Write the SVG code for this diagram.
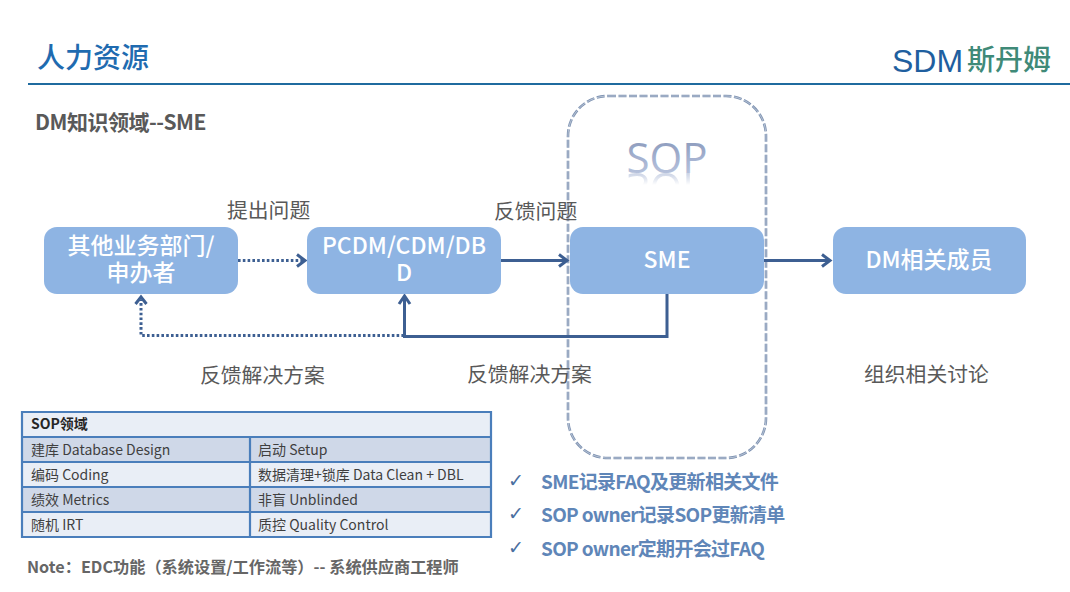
<svg xmlns="http://www.w3.org/2000/svg" width="1070" height="592" viewBox="0 0 1070 592">
<style>
text{font-family:"Noto Sans CJK SC","Noto Sans",sans-serif}
.box{fill:#8eb4e3}
.bt{fill:#fff;font-size:23px;font-weight:500;text-anchor:middle}
.lab{fill:#595959;font-size:20.800px}
.sol{fill:none;stroke:#3d5f92;stroke-width:3}
.dot{fill:none;stroke:#3d5f92;stroke-width:3;stroke-dasharray:2.6 2.2}
.ah{fill:none;stroke:#3d5f92;stroke-width:3}
.hd{fill:#e9eef6}.r1{fill:#cfd8e8}.r2{fill:#e9eef6}
.grid{fill:none;stroke:#4a7ebb;stroke-width:2.2}
.tt{fill:#3f3f3f;font-size:14px}
.bl{fill:#5f86b8;font-size:19px;font-weight:700;letter-spacing:-0.7px}
.ck{fill:#4a6f9f;font-size:19px;font-family:"DejaVu Sans",sans-serif}
</style>
<defs>
<linearGradient id="sg" x1="0" y1="0" x2="0" y2="1"><stop offset="0" stop-color="#7d8db0"/><stop offset="0.6" stop-color="#a9b6d4"/><stop offset="1" stop-color="#c4cde2"/></linearGradient>
<linearGradient id="fade" gradientUnits="userSpaceOnUse" x1="0" y1="173" x2="0" y2="185"><stop offset="0" stop-color="#fff" stop-opacity="0.7"/><stop offset="1" stop-color="#fff" stop-opacity="0"/></linearGradient>
<mask id="rm" maskUnits="userSpaceOnUse" x="610" y="172" width="110" height="16"><rect x="610" y="172" width="110" height="16" fill="url(#fade)"/></mask>
</defs>
<rect width="1070" height="592" fill="#fff"/>
<g id="header">
<text x="37" y="68" font-size="28" fill="#1f6bb0" style="font-weight:500">人力资源</text>
<line x1="28" y1="84" x2="1070" y2="84" stroke="#1f6b9f" stroke-width="2"/>
<text x="892" y="72" font-size="32" fill="#1f5f9f" style='font-family:"Liberation Sans",sans-serif'>SDM</text>
<text x="967" y="70" font-size="28" fill="#3f8a78" style="font-weight:500">斯丹姆</text>
<text x="35" y="130" font-size="21" fill="#595959" style="font-weight:700;letter-spacing:-0.5px">DM知识领域--SME</text>
</g>
<g id="sop-frame">
<rect x="568" y="96" width="198" height="362" rx="40" fill="none" stroke="#7f93b2" stroke-width="2.600" stroke-dasharray="8 2.500"/>
<rect x="568" y="96" width="198" height="362" rx="40" fill="none" stroke="#eef2f7" stroke-width="0.500" stroke-dasharray="8 2.500"/>
<text id="sop-word" x="667" y="173" font-size="42" text-anchor="middle" fill="url(#sg)" style="font-family:'Open Sans',sans-serif">SOP</text>
<g mask="url(#rm)"><use href="#sop-word" transform="translate(0,346) scale(1,-1)"/></g>
</g>
<g id="connectors">
<path class="dot" d="M238 260.500H303"/>
<path class="ah" d="M297 254.500l8 6-8 6"/>
<path class="sol" d="M501 260.500H566"/>
<path class="ah" d="M559 254.500l8 6-8 6"/>
<path class="sol" d="M764 260.500H829"/>
<path class="ah" d="M822 254.500l8 6-8 6"/>
<path class="sol" d="M667 294V336.500H404.500V298"/>
<path class="ah" d="M399 304l5.500-8 5.500 8"/>
<path class="dot" d="M404 335.500H141V300"/>
<path class="ah" d="M135.500 304l5.500-7 5.500 7"/>
</g>
<g id="node-other"><rect class="box" x="44" y="227" width="194" height="67" rx="13"/><text class="bt"><tspan x="141" y="254">其他业务部门/</tspan><tspan x="141" y="281">申办者</tspan></text></g>
<g id="node-pcdm"><rect class="box" x="307" y="227" width="194" height="67" rx="13"/><text class="bt"><tspan x="404" y="254">PCDM/CDM/DB</tspan><tspan x="404" y="281">D</tspan></text></g>
<g id="node-sme"><rect class="box" x="570" y="227" width="194" height="67" rx="13"/><text class="bt" x="667" y="268">SME</text></g>
<g id="node-dm"><rect class="box" x="833" y="227" width="193" height="67" rx="13"/><text class="bt" x="929" y="268">DM相关成员</text></g>
<g id="labels">
<text class="lab" x="227" y="218">提出问题</text>
<text class="lab" x="494" y="219">反馈问题</text>
<text class="lab" x="200" y="383">反馈解决方案</text>
<text class="lab" x="467" y="382">反馈解决方案</text>
<text class="lab" x="864" y="382">组织相关讨论</text>
</g>
<g id="sop-table">
<rect class="hd" x="22" y="412" width="469" height="25"/>
<rect class="r1" x="22" y="437" width="469" height="25"/>
<rect class="r2" x="22" y="462" width="469" height="25"/>
<rect class="r1" x="22" y="487" width="469" height="25"/>
<rect class="r2" x="22" y="512" width="469" height="25"/>
<path class="grid" d="M22 412H491V537H22ZM22 437H491M22 462H491M22 487H491M22 512H491M250 437V537"/>
<text x="31" y="429" font-size="14" fill="#262626" style="font-weight:700">SOP领域</text>
<text class="tt" x="31" y="455">建库 Database Design</text>
<text class="tt" x="258" y="455">启动 Setup</text>
<text class="tt" x="31" y="480">编码 Coding</text>
<text class="tt" x="258" y="480">数据清理+锁库 Data Clean + DBL</text>
<text class="tt" x="31" y="505">绩效 Metrics</text>
<text class="tt" x="258" y="505">非盲 Unblinded</text>
<text class="tt" x="31" y="530">随机 IRT</text>
<text class="tt" x="258" y="530">质控 Quality Control</text>
</g>
<g id="note"><text x="27" y="573" font-size="16.200" fill="#666" style="font-weight:700">Note：EDC功能（系统设置/工作流等）-- 系统供应商工程师</text></g>
<g id="bullets">
<text class="ck" x="508" y="487">✓</text><text class="bl" x="541" y="488.500">SME记录FAQ及更新相关文件</text>
<text class="ck" x="508" y="520">✓</text><text class="bl" x="541" y="521.500">SOP owner记录SOP更新清单</text>
<text class="ck" x="508" y="554">✓</text><text class="bl" x="541" y="555.500">SOP owner定期开会过FAQ</text>
</g>
</svg>
